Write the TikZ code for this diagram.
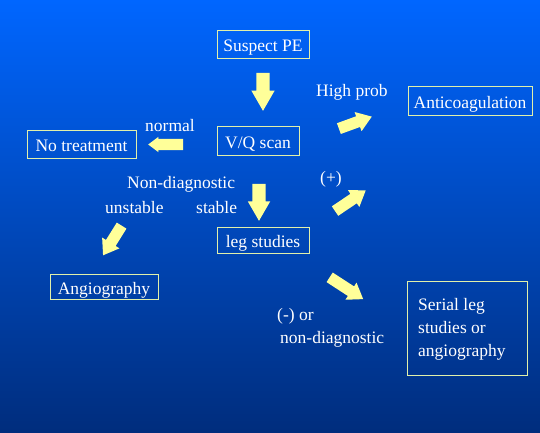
\documentclass[tikz,border=0pt]{standalone}
\usepackage{fontspec}
\setmainfont{Liberation Serif}
\usetikzlibrary{shapes.arrows}
\definecolor{bgtop}{RGB}{0,102,255}
\definecolor{bgbot}{RGB}{0,45,125}
\definecolor{boxline}{RGB}{225,240,170}
\definecolor{arrowfill}{RGB}{255,255,153}
\begin{document}
\begin{tikzpicture}[x=1pt,y=-1pt,
  lbl/.style={text=white,font=\fontsize{17.5}{23}\selectfont,inner sep=0pt,anchor=base west},
  box/.style={draw=boxline,line width=1pt,text=white,font=\fontsize{17.5}{23}\selectfont,
    inner sep=0pt,text height=18pt,text depth=3pt},
  barrow/.style={single arrow,fill=arrowfill,draw=none,inner sep=0pt,text depth=0pt,
    text height=11pt,single arrow head extend=4.5pt,single arrow tip angle=70}]
\shade[top color=bgtop,bottom color=bgbot] (0,0) rectangle (540,432);
\useasboundingbox (0,0) rectangle (540,432);

% boxes
\node[box,minimum width=92pt,minimum height=28pt] (spe) at (263,44) {Suspect PE};
\node[box,minimum width=82pt,minimum height=29pt] (vq) at (258,140.5) {V/Q scan};
\node[box,minimum width=124pt,minimum height=29pt] (anti) at (470,100.5) {Anticoagulation};
\node[box,minimum width=109pt,minimum height=28pt] (notr) at (81.5,144) {No treatment};
\node[box,minimum width=92pt,minimum height=26pt] (leg) at (263,240) {leg studies};
\node[box,minimum width=108pt,minimum height=25pt] (angio) at (104,286.5) {Angiography};
\node[draw=boxline,line width=1pt,minimum width=120pt,minimum height=94pt,inner sep=0pt] (serial) at (467,328) {};
\node[text=white,font=\fontsize{17.5}{23}\selectfont,inner sep=0pt,anchor=north west,align=left]
  (serialtxt) at (418,298.5) {Serial leg\\studies or\\angiography};

% labels
\node[lbl] (high) at (316,96.5) {High prob};
\node[lbl] (normal) at (145,131.5) {normal};
\node[lbl] (nondiag) at (127,188.5) {Non-diagnostic};
\node[lbl] (unstable) at (105,213) {unstable};
\node[lbl] (stable) at (196,213) {stable};
\node[lbl] (pos) at (320,183) {(+)};
\node[lbl] (neg) at (277,320) {(-) or};
\node[lbl] (neg2) at (280,343.5) {non-diagnostic};

% block arrows
\node[barrow,minimum height=38pt,text height=13pt,single arrow head extend=5pt,single arrow tip angle=60,rotate=270] (a1) at (263,86) {};
\node[barrow,minimum height=35pt,text height=11pt,single arrow head extend=2pt,single arrow tip angle=74,rotate=180] (a2) at (169.5,144.5) {};
\node[barrow,minimum height=35pt,rotate=20] (a3) at (351.5,124) {};
\node[barrow,minimum height=37pt,text height=13pt,single arrow head extend=4.5pt,single arrow tip angle=60,rotate=270] (a4) at (259,196.5) {};
\node[barrow,minimum height=37pt,rotate=34] (a5) at (347,203) {};
\node[barrow,minimum height=35pt,rotate=238] (a6) at (114.5,237) {};
\node[barrow,minimum height=40pt,rotate=-33] (a7) at (343,286) {};
\end{tikzpicture}
\end{document}
